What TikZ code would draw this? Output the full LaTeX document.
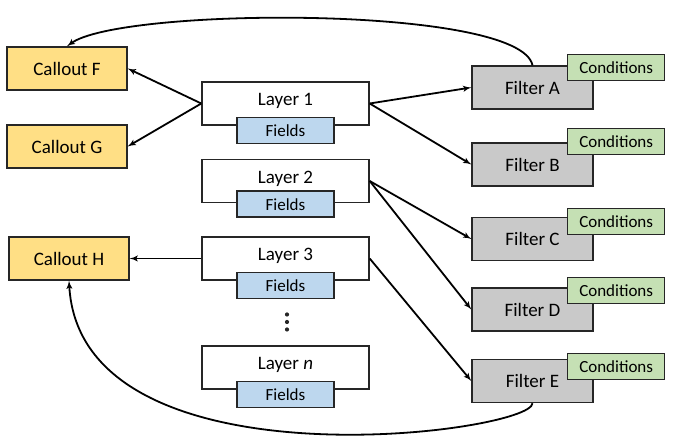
\documentclass[tikz,border=0pt]{standalone}
\usepackage{fontspec}
\setmainfont{Carlito}
\usepackage{xcolor}
\usepackage{tikz}
\usetikzlibrary{shapes,arrows,positioning}
\definecolor{calloutfill}{HTML}{FFDF85}
\definecolor{fieldsfill}{HTML}{BDD7EE}
\definecolor{filterfill}{HTML}{C9C9C9}
\definecolor{condfill}{HTML}{C5E0B4}
\definecolor{boxline}{HTML}{262626}
\tikzstyle{callout} = [rectangle, draw=boxline, fill=calloutfill, line width=1.4pt,
    minimum width=120pt, minimum height=43pt, font=\fontsize{19}{22}\selectfont]
\tikzstyle{layer} = [rectangle, draw=boxline, fill=white, line width=1.4pt, minimum width=167pt,
    minimum height=43pt, text height=12.5pt, text depth=7.5pt, font=\fontsize{19}{22}\selectfont]
\tikzstyle{fields} = [rectangle, draw=boxline, fill=fieldsfill, line width=1.4pt,
    minimum width=97pt, minimum height=26pt, inner sep=0pt, font=\fontsize{17}{20}\selectfont]
\tikzstyle{filter} = [rectangle, draw=boxline, fill=filterfill, line width=1.4pt,
    minimum width=121pt, minimum height=43pt, font=\fontsize{19}{22}\selectfont]
\tikzstyle{conditions} = [rectangle, draw=boxline, fill=condfill, line width=1.4pt,
    minimum width=97pt, minimum height=26pt, inner sep=0pt, font=\fontsize{17}{20}\selectfont]
\tikzstyle{line} = [draw, line width=1.8pt, -latex']

\begin{document}
\begin{tikzpicture}[x=1pt, y=1pt]
    \useasboundingbox (0,0) rectangle (677,443);
    % Place nodes
    \node [callout] at (67,374.5) (CF) {Callout F};
    \node [callout, below of=CF, node distance=78pt] (CG) {Callout G};
    \node [callout] at (69,184.5) (CH) {Callout H};
    \node [layer] at (285.5,339.5) (L1) {Layer 1};
    \node [layer, below of=L1, node distance=77.5pt] (L2) {Layer 2};
    \node [layer, below of=L2, node distance=77.5pt] (L3) {Layer 3};
    \node [layer, below of=L3, node distance=109pt] (Ln) {Layer \textit{n}};
    \node [fields] at ([yshift=-5pt]L1.south) (F1) {Fields};
    \node [fields] at ([yshift=-1pt]L2.south) (F2) {Fields};
    \node [fields] at ([yshift=-5pt]L3.south) (F3) {Fields};
    \node [fields] at ([yshift=-5pt]Ln.south) (Fn) {Fields};
    \coordinate (dots) at (287,121);
    \foreach \d in {-7.5,0,7.5}
        \fill [boxline] ([yshift=\d pt]dots) circle (2.1pt);
    \node [filter] at (532.5,355.5) (FA) {Filter A};
    \node [filter, below of=FA, node distance=77pt] (FB) {Filter B};
    \node [filter, below of=FB, node distance=74.5pt] (FC) {Filter C};
    \node [filter, below of=FC, node distance=70.5pt] (FD) {Filter D};
    \node [filter, below of=FD, node distance=71.5pt] (FE) {Filter E};
    \node [conditions] at ([xshift=22.5pt,yshift=-2pt]FA.north east) (CA) {Conditions};
    \node [conditions] at ([xshift=22.5pt,yshift=0.5pt]FB.north east) (CB) {Conditions};
    \node [conditions] at ([xshift=22.5pt,yshift=-4.5pt]FC.north east) (CC) {Conditions};
    \node [conditions] at ([xshift=22.5pt,yshift=-3pt]FD.north east) (CD) {Conditions};
    \node [conditions] at ([xshift=22.5pt,yshift=-7.5pt]FE.north east) (CE) {Conditions};

    % Draw edges
    \path [line] (L1.west) -- (CF.east);
    \path [line] (L1.west) -- (CG.east);
    \path [line] (L3.west) -- (CH.east);
    \path [line] (L1.east) -- (FA.west);
    \path [line] (L1.east) -- (FB.west);
    \path [line] (L2.east) -- (FC.west);
    \path [line] (L2.east) -- (FD.west);
    \path [line] (L3.east) -- (FE.west);
    \path [line] (FA.north) .. controls (520,438) and (120,436) .. (CF.north);
    \path [line] (FE.south) .. controls (532.5,10) and (80,-50) .. (CH.south);
\end{tikzpicture}
\end{document}
